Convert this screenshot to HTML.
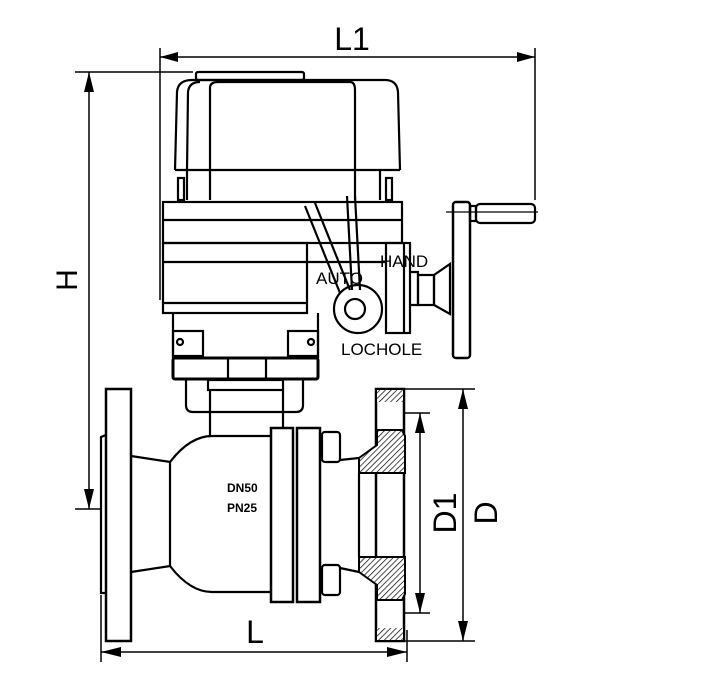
<!DOCTYPE html>
<html><head><style>
html,body{margin:0;padding:0;background:#fff;}
svg{display:block;}
text{font-family:"Liberation Sans",sans-serif;fill:#000;}
</style></head><body>
<svg width="721" height="696" viewBox="0 0 721 696" xmlns="http://www.w3.org/2000/svg">
<defs>
<pattern id="h" width="4" height="4" patternUnits="userSpaceOnUse" patternTransform="rotate(45)">
<rect width="4" height="4" fill="#fff"/><line x1="0" y1="0" x2="0" y2="4" stroke="#000" stroke-width="1.4"/>
</pattern>
</defs>
<g fill="none" stroke="#000" stroke-width="2.2">
<g stroke-width="1.5">
<line x1="160" y1="48" x2="160" y2="300"/>
<line x1="535" y1="48" x2="535" y2="200"/>
<line x1="160" y1="57" x2="535" y2="57"/>
<line x1="75" y1="72" x2="193" y2="72"/>
<line x1="89" y1="72" x2="89" y2="509"/>
<line x1="75" y1="509" x2="100" y2="509"/>
<line x1="101" y1="595" x2="101" y2="662"/>
<line x1="407" y1="630" x2="407" y2="662"/>
<line x1="101" y1="652" x2="407" y2="652"/>
<line x1="404" y1="389" x2="475" y2="389"/>
<line x1="404" y1="641" x2="475" y2="641"/>
<line x1="463" y1="389" x2="463" y2="641"/>
<line x1="404" y1="413" x2="430" y2="413"/>
<line x1="404" y1="613" x2="430" y2="613"/>
<line x1="420" y1="413" x2="420" y2="613"/>
</g>
<g fill="#000" stroke="none">
<polygon points="160,57 178,52 178,62"/>
<polygon points="535,57 517,52 517,62"/>
<polygon points="89,72 84,92 94,92"/>
<polygon points="89,509 84,489 94,489"/>
<polygon points="101,652 121,647 121,657"/>
<polygon points="407,652 387,647 387,657"/>
<polygon points="463,389 458,409 468,409"/>
<polygon points="463,641 458,621 468,621"/>
<polygon points="420,413 415,433 425,433"/>
<polygon points="420,613 415,593 425,593"/>
</g>

<rect x="196" y="72" width="108" height="8" rx="2"/>
<path d="M175,170 L177,92 Q178,80 192,80 L385,80 Q397,80 398,92 L400,170"/>
<path d="M187,170 L188,92 Q189,82 200,82"/>
<path d="M210,200 L210,88 Q210,82 218,82 L350,82 Q355,82 355,90 L355,200"/>
<line x1="175" y1="170" x2="400" y2="170"/>
<rect x="178" y="178" width="6" height="22"/>
<rect x="386" y="178" width="6" height="22"/>
<line x1="187" y1="170" x2="187" y2="200"/>
<line x1="380" y1="170" x2="380" y2="200"/>
<rect x="163" y="202" width="239" height="41"/>
<line x1="163" y1="220" x2="402" y2="220"/>
<rect x="163" y="243" width="144" height="70"/>
<line x1="163" y1="262" x2="307" y2="262"/>
<line x1="307" y1="262" x2="386" y2="262"/>
<line x1="163" y1="303" x2="307" y2="303"/>
<line x1="173" y1="313" x2="173" y2="358"/>
<line x1="318" y1="313" x2="318" y2="358"/>
<rect x="173" y="331" width="30" height="25"/>
<rect x="288" y="331" width="30" height="25"/>
<circle cx="180" cy="342" r="3"/>
<circle cx="311" cy="342" r="3"/>
<rect x="173" y="358" width="145" height="21" rx="2" stroke-width="3"/>
<line x1="228" y1="358" x2="228" y2="379"/>
<line x1="266" y1="358" x2="266" y2="379"/>
<path d="M305,206 L340,293 M315,203 L350,290" />
<path d="M347,196 L352,290 M355,196 L360,290"/>
<circle cx="358" cy="309" r="24"/>
<circle cx="355" cy="309" r="10"/>
<rect x="386" y="243" width="24" height="90"/>
<line x1="404" y1="243" x2="404" y2="333"/>
<path d="M410,272 L418,272 L418,305 L410,305"/>
<rect x="418" y="275" width="16" height="30"/>
<path d="M434,275 L450,264 L450,314 L434,305 Z"/>
<rect x="453" y="202" width="17" height="156" rx="3" stroke-width="2.5"/>
<line x1="446" y1="212" x2="538" y2="212" stroke-width="1.2"/>
<rect x="476" y="204" width="59" height="19" rx="4"/>
<rect x="470" y="206" width="6" height="15"/>
<path d="M186,379 L186,405 Q186,412 193,412 L296,412 Q303,412 303,405 L303,379"/>
<rect x="208" y="380" width="75" height="10"/>
<line x1="210" y1="390" x2="210" y2="436"/>
<line x1="283" y1="390" x2="283" y2="428"/>
<rect x="106" y="389" width="25" height="252" stroke-width="2.5"/>
<path d="M106,435 L101,437 L101,593 L106,593"/>
<path d="M131,456 L170,462 Q190,436 212,436 L271,436"/>
<path d="M131,572 L170,566 Q190,592 212,592 L271,592"/>
<line x1="170" y1="462" x2="170" y2="566"/>
<rect x="271" y="428" width="22" height="174" stroke-width="2.5"/>
<rect x="297" y="428" width="23" height="174" stroke-width="2.5"/>
<rect x="322" y="432" width="18" height="30" rx="3"/>
<rect x="322" y="565" width="18" height="30" rx="3"/>
<path d="M340,460 L359,458 M340,568 L359,572"/>
<rect x="376" y="389" width="28" height="252" stroke-width="2.5"/>
<rect x="377" y="390" width="26" height="12" fill="url(#h)" stroke="none"/>
<rect x="377" y="628" width="26" height="12" fill="url(#h)" stroke="none"/>
<path d="M377,430 L402,430 L405,436 L405,473 L359,473 L359,458 L377,445 Z" fill="url(#h)" stroke-width="2"/>
<path d="M377,600 L402,600 L405,594 L405,557 L359,557 L359,572 L377,585 Z" fill="url(#h)" stroke-width="2"/>
<line x1="359" y1="473" x2="359" y2="557"/>
</g>
<text x="352" y="50" font-size="32" text-anchor="middle">L1</text>
<text x="255" y="643" font-size="32" text-anchor="middle">L</text>
<text transform="translate(77,280) rotate(-90)" font-size="30" text-anchor="middle">H</text>
<text transform="translate(456,513) rotate(-90)" font-size="32" text-anchor="middle">D1</text>
<text transform="translate(497,513) rotate(-90)" font-size="32" text-anchor="middle">D</text>
<text x="227" y="492" font-size="12" font-weight="bold">DN50</text>
<text x="227" y="512" font-size="12" font-weight="bold">PN25</text>
<text x="380" y="267" font-size="17">HAND</text>
<text x="316" y="284" font-size="17">AUTO</text>
<text x="341" y="355" font-size="17">LOCHOLE</text>
</svg>
</body></html>
